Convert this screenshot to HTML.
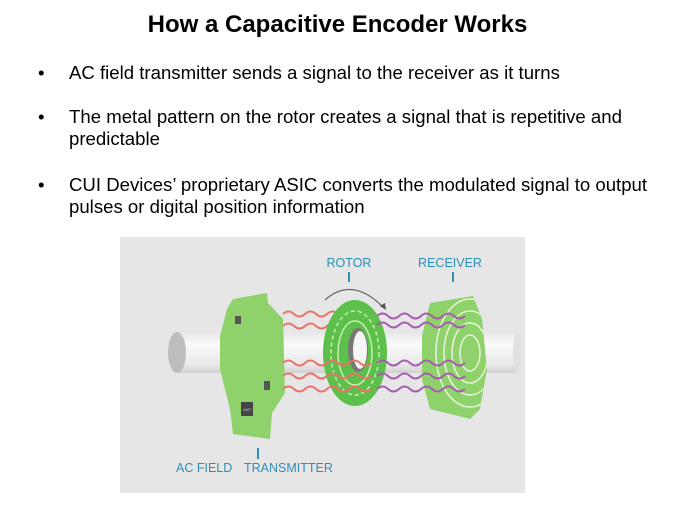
<!DOCTYPE html>
<html><head><style>
body{margin:0;background:#fff;width:675px;height:506px;overflow:hidden;font-family:"Liberation Sans",sans-serif;position:relative}
h1{position:absolute;top:11px;left:0;width:675px;text-align:center;margin:0;font-size:24px;font-weight:bold;color:#000}
.b{position:absolute;left:38px;font-size:18.6px;color:#000;line-height:22px}
.b span{position:absolute;left:0}
.b div{margin-left:31px;width:600px;white-space:nowrap}
</style></head><body>
<h1>How a Capacitive Encoder Works</h1>
<div class="b" style="top:62px"><span>•</span><div>AC field transmitter sends a signal to the receiver as it turns</div></div>
<div class="b" style="top:106px"><span>•</span><div>The metal pattern on the rotor creates a signal that is repetitive and<br>predictable</div></div>
<div class="b" style="top:174px"><span>•</span><div>CUI Devices’ proprietary ASIC converts the modulated signal to output<br>pulses or digital position information</div></div>
<svg style="position:absolute;left:0;top:0" width="675" height="506">
<defs>
<linearGradient id="cyl" x1="0" y1="0" x2="0" y2="1"><stop offset="0" stop-color="#e6e6e6"/><stop offset="0.3" stop-color="#fafafa"/><stop offset="0.8" stop-color="#e8e8e8"/><stop offset="1" stop-color="#cfcfcf"/></linearGradient>
<clipPath id="rc"><polygon points="430,303 473,296 482,319 487,369 480,409 470,419 430,409 422,379 422,336"/></clipPath>
</defs>
<rect x="120" y="237" width="405" height="256" fill="#e6e6e6"/>
<rect x="177" y="332" width="340" height="41" fill="url(#cyl)"/>
<ellipse cx="517" cy="352.5" rx="4" ry="20.5" fill="#e0e0e0"/>
<ellipse cx="177" cy="352.5" rx="9" ry="20.5" fill="#bdbdbd"/>
<polygon points="233,299 267,293 268,303 283,319 285,393 272,413 270,439 233,434 230,409 220,369 220,336 227,309" fill="#8fd16a"/>
<rect x="235" y="316" width="6" height="8" fill="#555"/>
<rect x="264" y="381" width="6" height="9" fill="#555"/>
<rect x="241" y="402" width="12" height="14" fill="#444"/>
<text x="243" y="411" font-size="4" fill="#ccc">AMT</text>
<g fill="none" stroke="#e8736a" stroke-width="2">
<path d="M283,314 q5.5,-5 11,0 t11,0 t11,0 t11,0 t11,0 t11,0 t11,0 t11,0"/>
<path d="M283,326 q5.5,-5 11,0 t11,0 t11,0 t11,0 t11,0 t11,0 t11,0 t11,0"/>
</g>
<ellipse cx="355" cy="353" rx="32" ry="53" fill="#5cc04a"/>
<ellipse cx="355" cy="353" rx="24" ry="42" fill="none" stroke="#c7eeb0" stroke-width="1.5" stroke-dasharray="4 3"/>
<ellipse cx="355" cy="353" rx="17" ry="32" fill="none" stroke="#c7eeb0" stroke-width="1.5"/>
<ellipse cx="358" cy="350" rx="10" ry="22" fill="#777"/>
<ellipse cx="360" cy="350" rx="7" ry="19" fill="#f5f5f5"/>
<polygon points="430,303 473,296 482,319 487,369 480,409 470,419 430,409 422,379 422,336" fill="#8fd16a"/>
<g fill="none" stroke="#e6f7da" stroke-width="1.5" clip-path="url(#rc)">
<ellipse cx="470" cy="353" rx="10" ry="18"/><ellipse cx="470" cy="353" rx="18" ry="30"/><ellipse cx="470" cy="353" rx="26" ry="42"/><ellipse cx="470" cy="353" rx="34" ry="54"/>
</g>
<g fill="none" stroke="#e8736a" stroke-width="2">
<path d="M283,363 q5.5,-5 11,0 t11,0 t11,0 t11,0 t11,0 t11,0 t11,0 t11,0"/>
<path d="M283,376 q5.5,-5 11,0 t11,0 t11,0 t11,0 t11,0 t11,0 t11,0 t11,0"/>
<path d="M283,389 q5.5,-5 11,0 t11,0 t11,0 t11,0 t11,0 t11,0 t11,0 t11,0"/>
</g>
<g fill="none" stroke="#a65cb0" stroke-width="2">
<path d="M377,316 q5.5,-5 11,0 t11,0 t11,0 t11,0 t11,0 t11,0 t11,0 t11,0"/>
<path d="M377,325 q5.5,-5 11,0 t11,0 t11,0 t11,0 t11,0 t11,0 t11,0 t11,0"/>
<path d="M377,363 q5.5,-5 11,0 t11,0 t11,0 t11,0 t11,0 t11,0 t11,0 t11,0"/>
<path d="M377,376 q5.5,-5 11,0 t11,0 t11,0 t11,0 t11,0 t11,0 t11,0 t11,0"/>
<path d="M377,389 q5.5,-5 11,0 t11,0 t11,0 t11,0 t11,0 t11,0 t11,0 t11,0"/>
</g>
<path d="M325,300 Q352,276 383,307" fill="none" stroke="#666" stroke-width="1.2"/>
<polygon points="380,306 386,310 385,303" fill="#555"/>
<g fill="#2e8fb4" font-size="12.5">
<text x="349" y="267" text-anchor="middle">ROTOR</text>
<text x="450" y="267" text-anchor="middle">RECEIVER</text>
<text x="176" y="472">AC FIELD</text>
<text x="244" y="472">TRANSMITTER</text>
</g>
<g stroke="#2e8fb4" stroke-width="2">
<line x1="349" y1="272" x2="349" y2="282"/><line x1="453" y1="272" x2="453" y2="282"/><line x1="258" y1="448" x2="258" y2="459"/>
</g>
</svg>
</body></html>
